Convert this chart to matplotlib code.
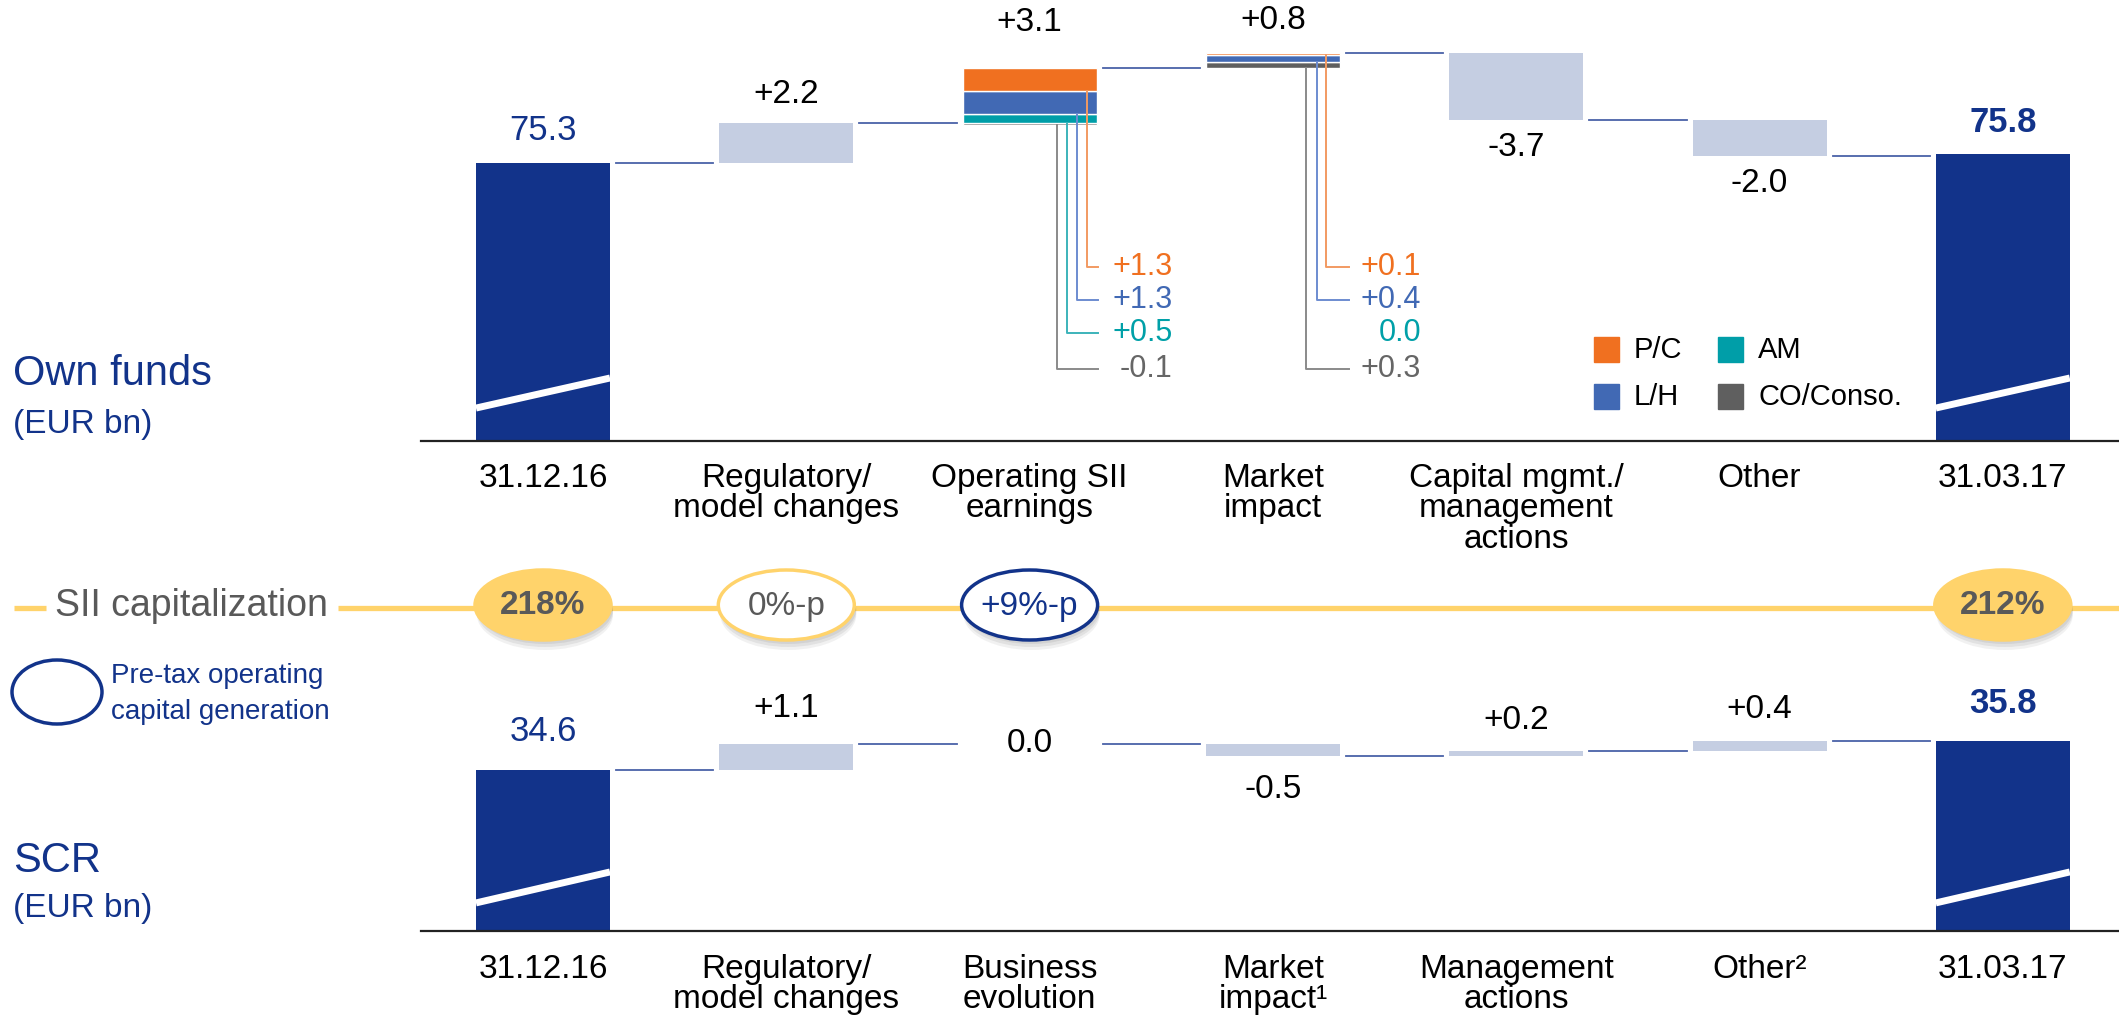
"""
Solvency II waterfall: own funds and SCR, 31.12.16 -> 31.03.17
"""

import matplotlib
matplotlib.use("Agg")
import matplotlib.pyplot as plt
from matplotlib.patches import Ellipse, Rectangle

plt.rcParams["font.family"] = ["Liberation Sans", "DejaVu Sans"]

# ---------------- data ----------------
OF_CATS = ["31.12.16", "Regulatory/\nmodel changes", "Operating SII\nearnings",
           "Market\nimpact", "Capital mgmt./\nmanagement\nactions", "Other", "31.03.17"]
OF_START = 75.3
OF_CHANGES = [2.2, 3.1, 0.8, -3.7, -2.0]
OF_END = 75.8

SEGMENTS = ["P/C", "L/H", "AM", "CO/Conso."]
SEG_OPERATING = [1.3, 1.3, 0.5, -0.1]
SEG_MARKET = [0.1, 0.4, 0.0, 0.3]

SCR_CATS = ["31.12.16", "Regulatory/\nmodel changes", "Business\nevolution",
            "Market\nimpact\u00b9", "Management\nactions", "Other\u00b2", "31.03.17"]
SCR_START = 34.6
SCR_CHANGES = [1.1, 0.0, -0.5, 0.2, 0.4]
SCR_END = 35.8

SII_TEXT = ["218%", "0%-p", "+9%-p", "212%"]
SII_AT = [0, 1, 2, 6]

# ---------------- style ----------------
W, H = 2119, 1017
X0, DX = 543, 243.3          # pixel centre of first category, spacing
XL = (-X0 / DX, (W - X0) / DX)
BAR_W = 134 / DX
GAP = 6 / DX

NAVY = "#12338a"
STEP = "#c5cee2"
CONN = "#4a62a8"
YELLOW = "#ffd36b"
GREY_TXT = "#595959"
SEG_COLORS = ["#f07020", "#4169b4", "#009ea8", "#5f5f5f"]
SEG_TXT = ["#f07020", "#4169b4", "#00a0a8", "#666666"]
LEAD_COLORS = ["#f29a62", "#6d8cd0", "#3cb3ba", "#8a8a8a"]
FS = 24
FS_TOTAL = 25


def px(x):
    return (x - X0) / DX


def fmt(v):
    return "0.0" if v == 0 else f"{v:+.1f}"


def draw_waterfall(ax, start, changes, end, ymin, pads, stripe):
    n = len(changes) + 2
    levels = [start]
    for c in changes:
        levels.append(levels[-1] + c)

    # totals (broken bars)
    for i, v, bold in [(0, start, False), (n - 1, end, True)]:
        ax.bar(i, v - ymin, bottom=ymin, width=BAR_W, color=NAVY, zorder=3)
        ax.plot([i - BAR_W / 2, i + BAR_W / 2], [ymin + stripe[0], ymin + stripe[1]],
                color="white", lw=5, solid_capstyle="butt", zorder=4)
        ax.annotate(f"{v:.1f}", (i, v), xytext=(0, pads[i] * 0.72), textcoords="offset points",
                    ha="center", va="center", fontsize=FS_TOTAL, color=NAVY,
                    fontweight="bold" if bold else "normal")

    # steps
    for k, c in enumerate(changes):
        i = k + 1
        lo, hi = min(levels[k], levels[k + 1]), max(levels[k], levels[k + 1])
        if c != 0:
            ax.bar(i, hi - lo, bottom=lo, width=BAR_W, color=STEP, zorder=3)
        if c > 0:
            ax.annotate(fmt(c), (i, hi), xytext=(0, pads[i] * 0.72), textcoords="offset points",
                        ha="center", va="center", fontsize=FS, color="black")
        elif c < 0:
            ax.annotate(fmt(c), (i, lo), xytext=(0, -pads[i] * 0.72), textcoords="offset points",
                        ha="center", va="center", fontsize=FS, color="black")
        else:
            ax.text(i, hi, fmt(c), ha="center", va="center", fontsize=FS, color="black")

    # connectors
    for k in range(n - 1):
        ax.plot([k + BAR_W / 2 + GAP, k + 1 - BAR_W / 2 - GAP], [levels[k], levels[k]],
                color=CONN, lw=1.3, zorder=2)

    ax.plot([-0.5, XL[1]], [ymin, ymin], color="#222222", lw=1.6, clip_on=False, zorder=5)
    return levels


def draw_segments(ax, i, start, values, lead_dx, horiz_end, text_right, rows):
    # stack bottom -> top: CO, AM, L/H, P/C ; negatives go below start
    pos = start
    bottoms = [0] * len(values)
    for j in reversed(range(len(values))):
        v = values[j]
        if v >= 0:
            bottoms[j] = pos
            pos += v
        else:
            bottoms[j] = start + v
        if v != 0:
            ax.bar(i, abs(v), bottom=bottoms[j], width=BAR_W, color=SEG_COLORS[j],
                   edgecolor="white", linewidth=1.0, zorder=3)
    for j, v in enumerate(values):
        xr = i + px(X0 + text_right)
        if v != 0:
            xl = i + px(X0 + lead_dx[j])
            xe = i + px(X0 + horiz_end)
            ax.plot([xl, xl, xe], [bottoms[j], rows[j], rows[j]], color=LEAD_COLORS[j],
                    lw=1.4, zorder=4)
        ax.text(xr, rows[j], fmt(v), ha="right", va="center", fontsize=22, color=SEG_TXT[j])


fig = plt.figure(figsize=(W / 100, H / 100), dpi=100)

# ---------- own funds ----------
Y1 = (59.86, 59.86 + 441 / 18)
ax1 = fig.add_axes([0, (H - 441) / H, 1, 441 / H])
ax1.set_xlim(XL)
ax1.set_ylim(Y1)
ax1.axis("off")
lv = draw_waterfall(ax1, OF_START, OF_CHANGES, OF_END, Y1[0],
                    pads=[33, 29, 45, 33, 28, 28, 32], stripe=(1.83, 3.5))
rows = [69.53, 67.69, 65.86, 63.86]
draw_segments(ax1, 2, lv[1], SEG_OPERATING, [57, 47, 37, 27], 68, 143, rows)
draw_segments(ax1, 3, lv[2], SEG_MARKET, [53, 44, 0, 33], 76, 148, rows)

# ---------- SCR ----------
Y2 = (27.89, 27.89 + 300 / 24)
ax2 = fig.add_axes([0, (H - 931) / H, 1, 300 / H])
ax2.set_xlim(XL)
ax2.set_ylim(Y2)
ax2.axis("off")
draw_waterfall(ax2, SCR_START, SCR_CHANGES, SCR_END, Y2[0],
               pads=[38, 35, 0, 34, 30, 32, 38], stripe=(1.17, 2.46))

# ---------- overlay: labels, SII row, legends ----------
ov = fig.add_axes([0, 0, 1, 1], zorder=5)
ov.set_xlim(XL)
ov.set_ylim(H, 0)
ov.axis("off")
ov.patch.set_alpha(0)

for i, lab in enumerate(OF_CATS):
    ov.text(i, 463, lab, ha="center", va="top", fontsize=FS, linespacing=0.97)
for i, lab in enumerate(SCR_CATS):
    ov.text(i, 954, lab, ha="center", va="top", fontsize=FS, linespacing=0.97)

ov.text(px(13), 374, "Own funds", ha="left", va="center", fontsize=30, color=NAVY)
ov.text(px(13), 424, "(EUR bn)", ha="left", va="center", fontsize=24, color=NAVY)
ov.text(px(13), 861, "SCR", ha="left", va="center", fontsize=30, color=NAVY)
ov.text(px(13), 909, "(EUR bn)", ha="left", va="center", fontsize=24, color=NAVY)

# SII capitalization row
ov.plot([px(14), px(46)], [608, 608], color=YELLOW, lw=3.8, solid_capstyle="butt")
ov.plot([px(338), XL[1]], [608, 608], color=YELLOW, lw=3.8, solid_capstyle="butt", zorder=1)
ov.text(px(55), 606, "SII capitalization", ha="left", va="center", fontsize=27, color=GREY_TXT)

ew, eh = 136 / DX, 70
for txt, at in zip(SII_TEXT, SII_AT):
    for off, a in [(4, 0.10), (7, 0.10), (10, 0.08)]:
        ov.add_patch(Ellipse((at + 2 / DX, 605 + off), ew, eh, color="#555555", alpha=a,
                             lw=0, zorder=2))
    if txt.endswith("%"):
        face, edge, tc, fw = YELLOW, YELLOW, GREY_TXT, "bold"
    elif txt.startswith("+"):
        face, edge, tc, fw = "white", NAVY, NAVY, "normal"
    else:
        face, edge, tc, fw = "white", YELLOW, GREY_TXT, "normal"
    ov.add_patch(Ellipse((at, 605), ew, eh, facecolor=face, edgecolor=edge, lw=2.5, zorder=3))
    ov.text(at, 606, txt, ha="center", va="center", fontsize=FS, color=tc, fontweight=fw,
            zorder=4)

# pre-tax operating capital generation legend
ov.add_patch(Ellipse((px(57), 692), 90 / DX, 64, facecolor="white", edgecolor=NAVY, lw=2.5))
ov.text(px(111), 676, "Pre-tax operating", ha="left", va="center", fontsize=20, color=NAVY)
ov.text(px(111), 712, "capital generation", ha="left", va="center", fontsize=20, color=NAVY)

# segment legend
legend_pos = [(1594, 337), (1594, 384), (1718, 337), (1718, 384)]
for name, col, (lx, ly) in zip(SEGMENTS, SEG_COLORS, legend_pos):
    ov.add_patch(Rectangle((px(lx), ly), 25 / DX, 25, color=col))
    ov.text(px(lx + 40), ly + 13, name, ha="left", va="center", fontsize=21)

fig.savefig("out.png", dpi=100)
